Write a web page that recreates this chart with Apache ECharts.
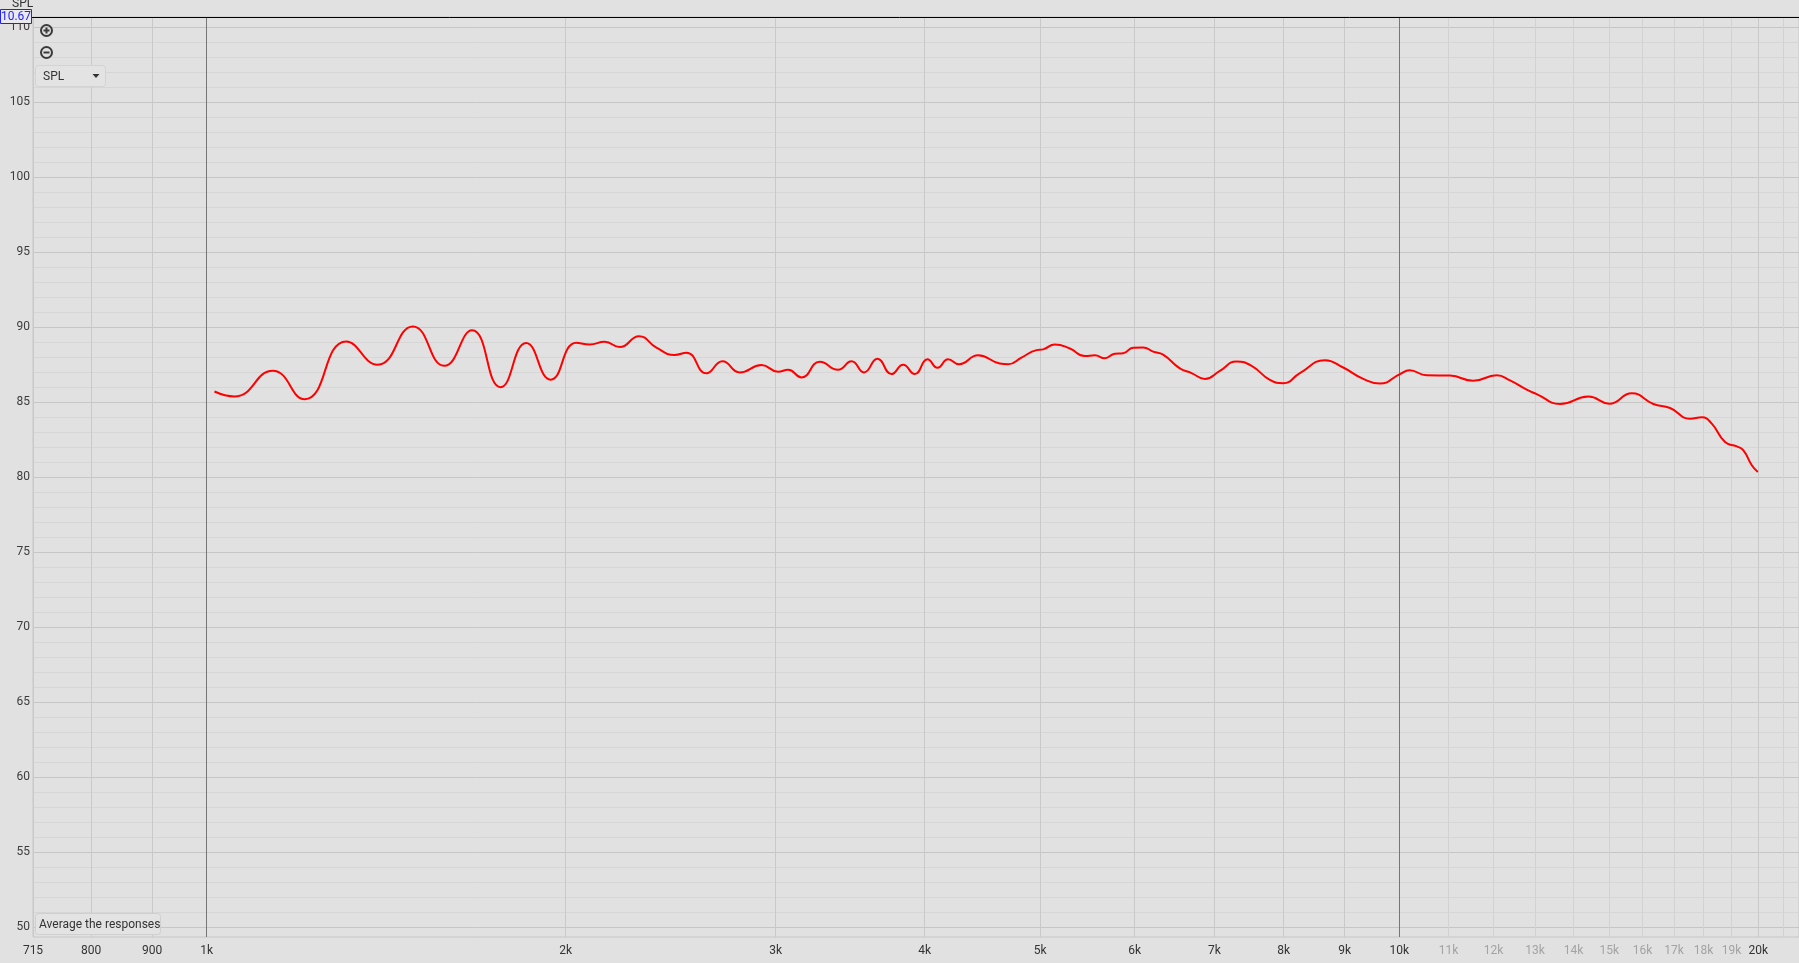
<!DOCTYPE html>
<html><head><meta charset="utf-8">
<script src="https://cdn.jsdelivr.net/npm/echarts@6/dist/echarts.min.js"></script>
<style>html,body{margin:0;padding:0;background:#e1e1e1;overflow:hidden}#c{width:1799px;height:963px}</style>
</head><body><div id="c"></div>
<script>
// ---- data ----
const freqHz = [1015,1055,1136,1208,1309,1391,1489,1582,1669,1764,1853,1943,2041,2095,2156,2220,2304,2383,2468,2525,2624,2707,2799,2919,3014,3073,3153,3267,3384,3473,3558,3651,3752,3837,3924,4022,4100,4185,4275,4435,4624,4699,4822,4964,5028,5143,5294,5450,5556,5664,5775,5868,5983,6099,6218,6339,6547,6697,6871,7073,7305,7520,7790,7993,8255,8664,8975,9329,9634,10014,10200,10544,11030,11538,12071,12385,12791,13040,13641,14408,15004,15668,16335,16871,17536,17936,18286,18762,19191,19437,19755,19985];
const splDb = [85.70,85.37,87.08,85.18,89.04,87.48,90.04,87.41,89.78,85.99,88.93,86.49,88.95,88.84,89.01,88.66,89.39,88.62,88.14,88.29,86.91,87.72,86.97,87.46,87.02,87.15,86.64,87.68,87.15,87.72,86.97,87.89,86.86,87.48,86.86,87.85,87.28,87.85,87.52,88.11,87.57,87.52,87.96,88.46,88.51,88.84,88.57,88.07,88.11,87.92,88.22,88.25,88.62,88.64,88.36,88.16,87.24,86.93,86.54,87.08,87.70,87.41,86.47,86.25,86.93,87.79,87.30,86.54,86.23,86.86,87.11,86.78,86.76,86.42,86.78,86.44,85.82,85.53,84.87,85.36,84.89,85.58,84.87,84.60,83.89,83.98,83.56,82.33,82.04,81.78,80.78,80.33];

const yMajorValues = [50,55,60,65,70,75,80,85,90,95,100,105,110];
const yMinorValues = [51,52,53,54,56,57,58,59,61,62,63,64,66,67,68,69,71,72,73,74,76,77,78,79,81,82,83,84,86,87,88,89,91,92,93,94,96,97,98,99,101,102,103,104,106,107,108,109];
const xTickValues = [715,800,900,1000,2000,3000,4000,5000,6000,7000,8000,9000,10000,11000,12000,13000,14000,15000,16000,17000,18000,19000,20000];
const xTickLabels = ['715','800','900','1k','2k','3k','4k','5k','6k','7k','8k','9k','10k','11k','12k','13k','14k','15k','16k','17k','18k','19k','20k'];
const xExtraGridValues = [21000];
const xStrongValues = [1000,10000];
const xFaintValues = [11000,12000,13000,14000,15000,16000,17000,18000,19000,21000];
const xRange = [715, 21640];
const yRange = [49.333, 110.667];

const FONT = 'Roboto';
const chart = echarts.init(document.getElementById('c'), null, {renderer:'canvas'});

const hLines = [];
yMinorValues.forEach(v => hLines.push({yAxis: v, lineStyle:{color:'#d6d6d6', width:1, type:'solid'}, label:{show:false}}));
yMajorValues.forEach(v => hLines.push({yAxis: v, lineStyle:{color:'#c6c6c6', width:1, type:'solid'},
  label:{show:true, position:'start', formatter:String(v), color:'#3c3c3c', fontSize:12, fontFamily:FONT, distance:3}}));

const vLines = [];
xTickValues.forEach((v,i) => {
  const strong = xStrongValues.includes(v);
  const faint = xFaintValues.includes(v);
  vLines.push({xAxis: v,
    lineStyle:{color: strong ? '#767676' : (faint ? '#d2d2d2' : '#c9c9c9'), width:1, type:'solid'},
    label:{show:true, position:'start', formatter:xTickLabels[i], color: faint ? '#a3a3a3' : '#333333', fontSize:12, fontFamily:FONT, distance:8}});
});
xExtraGridValues.forEach(v => vLines.push({xAxis: v, lineStyle:{color:'#d2d2d2', width:1, type:'solid'}, label:{show:false}}));

const curve = freqHz.map((f,i) => [f, splDb[i]]);

chart.setOption({
  animation:false,
  backgroundColor:'#e1e1e1',
  grid:{left:33, right:0, top:17, bottom:26, show:true, borderColor:'#c6c6c6', borderWidth:1, backgroundColor:'transparent'},
  xAxis:{type:'log', logBase:10, min:xRange[0], max:xRange[1], show:false},
  yAxis:{type:'value', min:yRange[0], max:yRange[1], show:false},
  series:[
    {type:'line', data:[], z:1, silent:true,
     markLine:{silent:true, symbol:['none','none'], animation:false, data:hLines}},
    {type:'line', data:[], z:2, silent:true,
     markLine:{silent:true, symbol:['none','none'], animation:false, data:vLines}},
    {type:'line', data:curve, z:5, smooth:0.5, showSymbol:false, silent:true,
     lineStyle:{color:'#ff0000', width:2}}
  ],
  graphic:[
    {type:'line', shape:{x1:0, y1:17.5, x2:1799, y2:17.5}, style:{stroke:'#000', lineWidth:1}, z:50},
    {type:'text', left:12, top:-2, style:{text:'SPL', fill:'#333', font:'12px '+FONT}, z:50},
    {type:'rect', shape:{x:0.5, y:9.5, width:31, height:14}, style:{fill:'#e9e9ef', stroke:'#1f1fff', lineWidth:1}, z:60},
    {type:'text', x:16, y:16.5, style:{text:'10.67', fill:'#2323ff', font:'12px '+FONT, align:'center', verticalAlign:'middle'}, z:61},
    // zoom in icon
    {type:'circle', shape:{cx:46.5, cy:30.5, r:5.5}, style:{fill:'none', stroke:'#3a3a3a', lineWidth:2}, z:50},
    {type:'line', shape:{x1:43.5, y1:30.5, x2:49.5, y2:30.5}, style:{stroke:'#3a3a3a', lineWidth:2}, z:50},
    {type:'line', shape:{x1:46.5, y1:27.5, x2:46.5, y2:33.5}, style:{stroke:'#3a3a3a', lineWidth:2}, z:50},
    // zoom out icon
    {type:'circle', shape:{cx:46.5, cy:52.5, r:5.5}, style:{fill:'none', stroke:'#3a3a3a', lineWidth:2}, z:50},
    {type:'line', shape:{x1:43.5, y1:52.5, x2:49.5, y2:52.5}, style:{stroke:'#3a3a3a', lineWidth:2}, z:50},
    // SPL dropdown
    {type:'rect', shape:{x:35.5, y:65.5, width:70, height:21, r:3}, style:{fill:'#e3e3e3', stroke:'#d3d3d3', lineWidth:1}, z:50},
    {type:'text', x:43, y:76.5, style:{text:'SPL', fill:'#333', font:'12px '+FONT, verticalAlign:'middle'}, z:51},
    {type:'polygon', shape:{points:[[92.5,74],[99.5,74],[96,78]]}, style:{fill:'#333'}, z:51},
    // Average the responses button
    {type:'rect', shape:{x:35.5, y:913.5, width:125, height:21, r:3}, style:{fill:'#e3e3e3', stroke:'#cfcfcf', lineWidth:1}, z:50},
    {type:'text', x:39, y:924.5, style:{text:'Average the responses', fill:'#333', font:'12px '+FONT, verticalAlign:'middle'}, z:51}
  ]
});
</script></body></html>
